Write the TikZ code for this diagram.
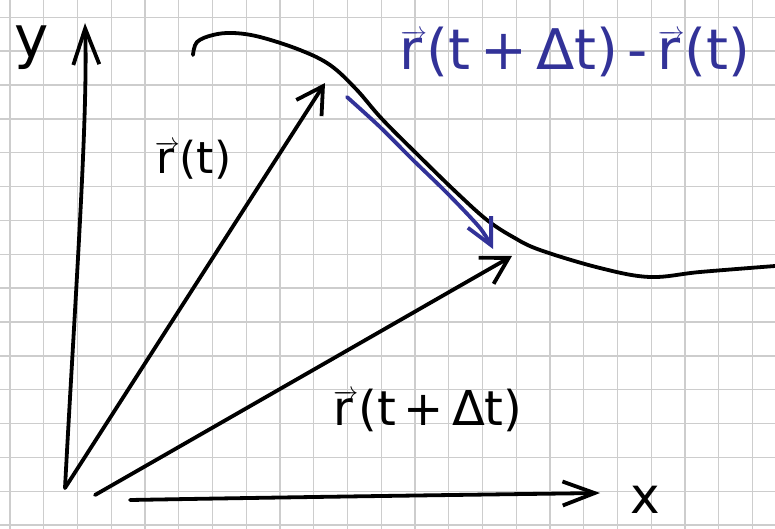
\documentclass[tikz,border=0pt]{standalone}
\usepackage{fontspec}
\setmainfont{DejaVu Sans}
\usetikzlibrary{arrows.meta}
\definecolor{inkblue}{RGB}{50,50,152}
\definecolor{gridgray}{RGB}{205,205,205}

\begin{document}
\begin{tikzpicture}[x=1pt,y=-1pt,
 ink/.style={line width=3.8pt,line cap=round,line join=round},
 vec/.style={ink,-{Straight Barb[length=26pt,width=30pt,line width=3.8pt]}},
 axis/.style={ink,-{Straight Barb[length=36pt,width=26pt,line width=3.8pt]}},
 lbl/.style={font=\fontsize{44}{48}\selectfont,inner sep=0pt}]
\useasboundingbox (0,0) rectangle (775,529);
\fill[white] (0,0) rectangle (775,529);
% grid paper
\foreach \i in {0,...,22}
  \draw[gridgray,line width=1.4pt] (10+33.75*\i,0) -- (10+33.75*\i,529);
\foreach \j in {0,...,15}
  \draw[gridgray,line width=1.4pt] (0,17.3+33.85*\j) -- (775,17.3+33.85*\j);
\coordinate (o1) at (65,488);
\coordinate (o2) at (95,495);
\coordinate (ytip) at (85,23);
\coordinate (xstart) at (130,500);
\coordinate (xtip) at (600,493);
\coordinate (rt) at (325,83);
\coordinate (rdt) at (512,256);
\coordinate (dstart) at (347,97);
\coordinate (dtip) at (493,249);
% axes
\draw[axis] (o1) .. controls (75,300) and (88,120) .. (ytip);
\draw[axis,-{Straight Barb[length=32pt,width=24pt,line width=3.8pt]}] (xstart) .. controls (300,497) and (450,495) .. (xtip);
\node[lbl,font=\fontsize{58}{60}\selectfont] (ylab) at (32,48) {y};
\node[lbl,font=\fontsize{50}{52}\selectfont] (xlab) at (645,500) {x};
% position vectors
\draw[vec] (o1) -- (rt);
\draw[vec] (o2) -- (rdt);
% trajectory
\draw[ink] plot[smooth,tension=0.6] coordinates {(193,55) (197,42) (213,35) (233,33)
  (260,37) (300,50) (330,65) (356,89) (382,119) (420,157) (457,193) (487,220) (513,237)
  (540,250) (600,268) (650,277) (700,272) (775,266)};
% difference vector
\draw[ink,inkblue,-{Straight Barb[length=26pt,width=26pt,line width=3.8pt]}]
  plot[smooth] coordinates {(dstart) (380,127) (413,160) (447,193) (480,228) (dtip)};
% labels
\node[lbl] (rtlab) at (193,160) {$\overrightarrow{\mbox{r}\,}$(t)};
\node[lbl,font=\fontsize{48}{52}\selectfont] (rdtlab) at (428,410)
  {$\overrightarrow{\mbox{r}\,}$(t\,+\,Δt)};
\node[lbl,inkblue,font=\fontsize{56}{60}\selectfont] (difflab) at (575,52)
  {$\overrightarrow{\mbox{r}\,}$(t\,+\,Δt)\,-\,$\overrightarrow{\mbox{r}\,}$(t)};
\end{tikzpicture}
\end{document}
